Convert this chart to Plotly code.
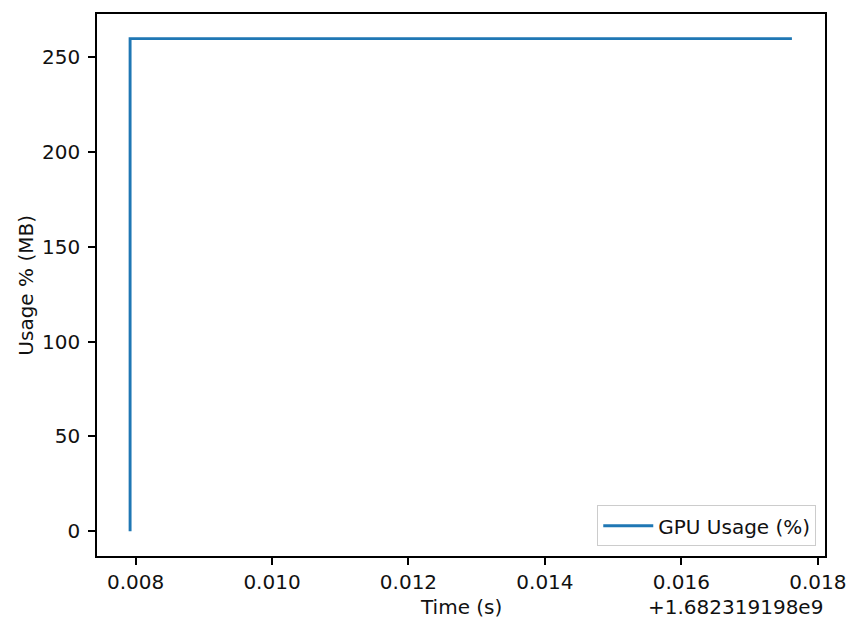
import plotly.graph_objects as go

# Data (time relative to offset, seconds)
OFFSET_LABEL = "+1.682319198e9"
time_rel = [0.00792, 0.00792, 0.01762]
gpu_usage = [0.0, 259.6, 259.6]

x_ticks = [0.008, 0.010, 0.012, 0.014, 0.016, 0.018]
y_ticks = [0, 50, 100, 150, 200, 250]

FONT = "DejaVu Sans, Liberation Sans, sans-serif"
FS = 20
TXT = "#111111"

fig = go.Figure()
fig.add_trace(go.Scatter(
    x=time_rel, y=gpu_usage, mode="lines",
    name="GPU Usage (%)",
    line=dict(color="#1f77b4", width=2.9),
))

xspan = max(time_rel) - min(time_rel)
yspan = max(gpu_usage) - min(gpu_usage)

fig.update_layout(
    width=846, height=621,
    margin=dict(l=97, r=21, t=14, b=65, autoexpand=False),
    paper_bgcolor="white", plot_bgcolor="white",
    font=dict(family=FONT, size=FS, color=TXT),
    showlegend=True,
    legend=dict(
        x=0.988, y=0.018, xanchor="right", yanchor="bottom",
        bgcolor="rgba(255,255,255,0.8)", bordercolor="#cccccc", borderwidth=1,
        font=dict(family=FONT, size=FS, color=TXT),
        itemwidth=50,
    ),
    xaxis=dict(
        range=[min(time_rel) - 0.05 * xspan, max(time_rel) + 0.05 * xspan],
        tickvals=x_ticks, tickformat=".3f",
        showgrid=False, zeroline=False, automargin=False,
        showline=True, linecolor="black", linewidth=1.5, mirror=True,
        ticks="outside", ticklen=7, tickwidth=1.5, tickcolor="black",
        tickfont=dict(family=FONT, size=FS, color=TXT),
        ticklabeloverflow="allow",
    ),
    yaxis=dict(
        range=[min(gpu_usage) - 0.05 * yspan, max(gpu_usage) + 0.05 * yspan],
        tickvals=y_ticks,
        showgrid=False, zeroline=False, automargin=False,
        showline=True, linecolor="black", linewidth=1.5, mirror=True,
        ticks="outside", ticklen=7, tickwidth=1.5, tickcolor="black",
        tickfont=dict(family=FONT, size=FS, color=TXT),
        ticklabelstandoff=4,
    ),
    annotations=[
        dict(text="Time (s)", xref="paper", yref="paper", x=0.5, y=-0.094,
             xanchor="center", yanchor="middle", showarrow=False,
             font=dict(family=FONT, size=FS, color=TXT)),
        dict(text=OFFSET_LABEL, xref="paper", yref="paper", x=1.0, y=-0.094,
             xanchor="right", yanchor="middle", showarrow=False,
             font=dict(family=FONT, size=FS, color=TXT)),
        dict(text="Usage % (MB)", xref="paper", yref="paper", x=-0.098, y=0.5,
             xanchor="center", yanchor="middle", showarrow=False, textangle=-90,
             font=dict(family=FONT, size=FS, color=TXT)),
    ],
)

fig.write_html(
    "out.html",
    config={"displayModeBar": False},
    post_script="document.body.style.margin='0';document.body.style.overflow='hidden';",
)
